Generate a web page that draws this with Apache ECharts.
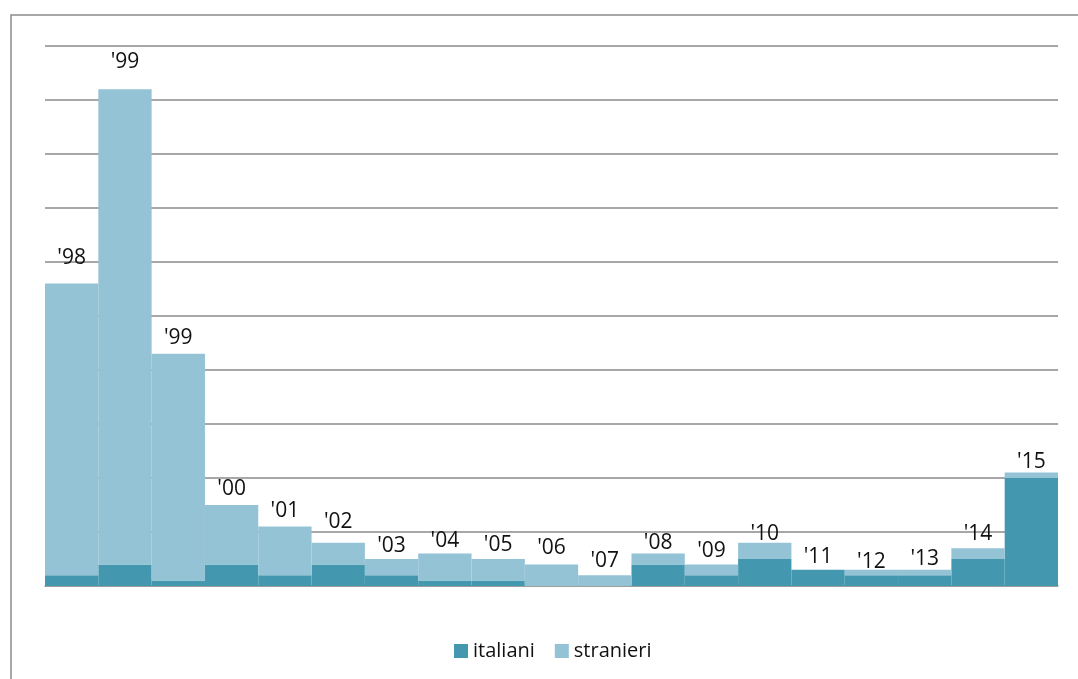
<!DOCTYPE html>
<html>
<head>
<meta charset="utf-8">
<script src="https://cdn.jsdelivr.net/npm/echarts@6/dist/echarts.min.js"></script>
<style>
  html, body { margin: 0; padding: 0; background: #fff; }
  #container { width: 1078px; height: 679px; }
</style>
</head>
<body>
<div id="container"></div>
<script>
// anni (etichette sopra le colonne)
const anni = ["'98", "'99", "'99", "'00", "'01", "'02", "'03", "'04", "'05", "'06",
  "'07", "'08", "'09", "'10", "'11", "'12", "'13", "'14", "'15"]
const italiani = [2, 4, 1, 4, 2, 4, 2, 1, 1, 0, 0, 4, 2, 5, 3, 2, 2, 5, 20]
const stranieri = [54, 88, 42, 11, 9, 4, 3, 5, 4, 4, 2, 2, 2, 3, 0, 1, 1, 2, 1]

// distanza etichetta-colonna (come spostate a mano nell'originale)
const labelGap = [15, 17, 5, 5, 5, 10, 2, 2, 3, 6, 4, 0, 3, -2, 2, -3, 0, 4, 0]

const dom = document.getElementById('container')
const myChart = echarts.init(dom)

const option = {
  animation: false,
  textStyle: { fontFamily: 'Open Sans' },
  color: ['#4397AF', '#93C3D5'],
  graphic: [
    {
      type: 'rect',
      shape: { x: 11, y: 15, width: 1200, height: 800 },
      style: { fill: 'none', stroke: '#8c8c8c', lineWidth: 1.5 },
      silent: true
    }
  ],
  legend: {
    data: ['italiani', 'stranieri'],
    left: 449,
    top: 636,
    icon: 'rect',
    itemWidth: 14,
    itemHeight: 14,
    itemGap: 20,
    textStyle: { fontSize: 20, color: '#111', fontFamily: 'Open Sans' }
  },
  grid: {
    left: 45,
    right: 20,
    top: 46,
    bottom: 93,
    containLabel: false
  },
  xAxis: {
    type: 'category',
    data: anni,
    axisLine: { lineStyle: { color: '#9a9a9a', width: 1.5 } },
    axisTick: { show: false },
    axisLabel: { show: false }
  },
  yAxis: {
    type: 'value',
    min: 0,
    max: 100,
    interval: 10,
    axisLine: { show: false },
    axisTick: { show: false },
    axisLabel: { show: false },
    // linee della griglia
    splitLine: { lineStyle: { color: '#8a8a8a', width: 1.5 } }
  },
  series: [
    {
      name: 'italiani',
      type: 'bar',
      stack: 'tot',
      barCategoryGap: '0%',
      data: italiani
    },
    {
      name: 'stranieri',
      type: 'bar',
      stack: 'tot',
      barCategoryGap: '0%',
      data: stranieri.map((v, i) => ({
        value: v,
        label: { distance: labelGap[i] }
      })),
      label: {
        show: true,
        position: 'top',
        fontSize: 21,
        color: '#111',
        fontFamily: 'Open Sans',
        formatter: p => anni[p.dataIndex]
      }
    }
  ]
}

myChart.setOption(option, true)
</script>
</body>
</html>
